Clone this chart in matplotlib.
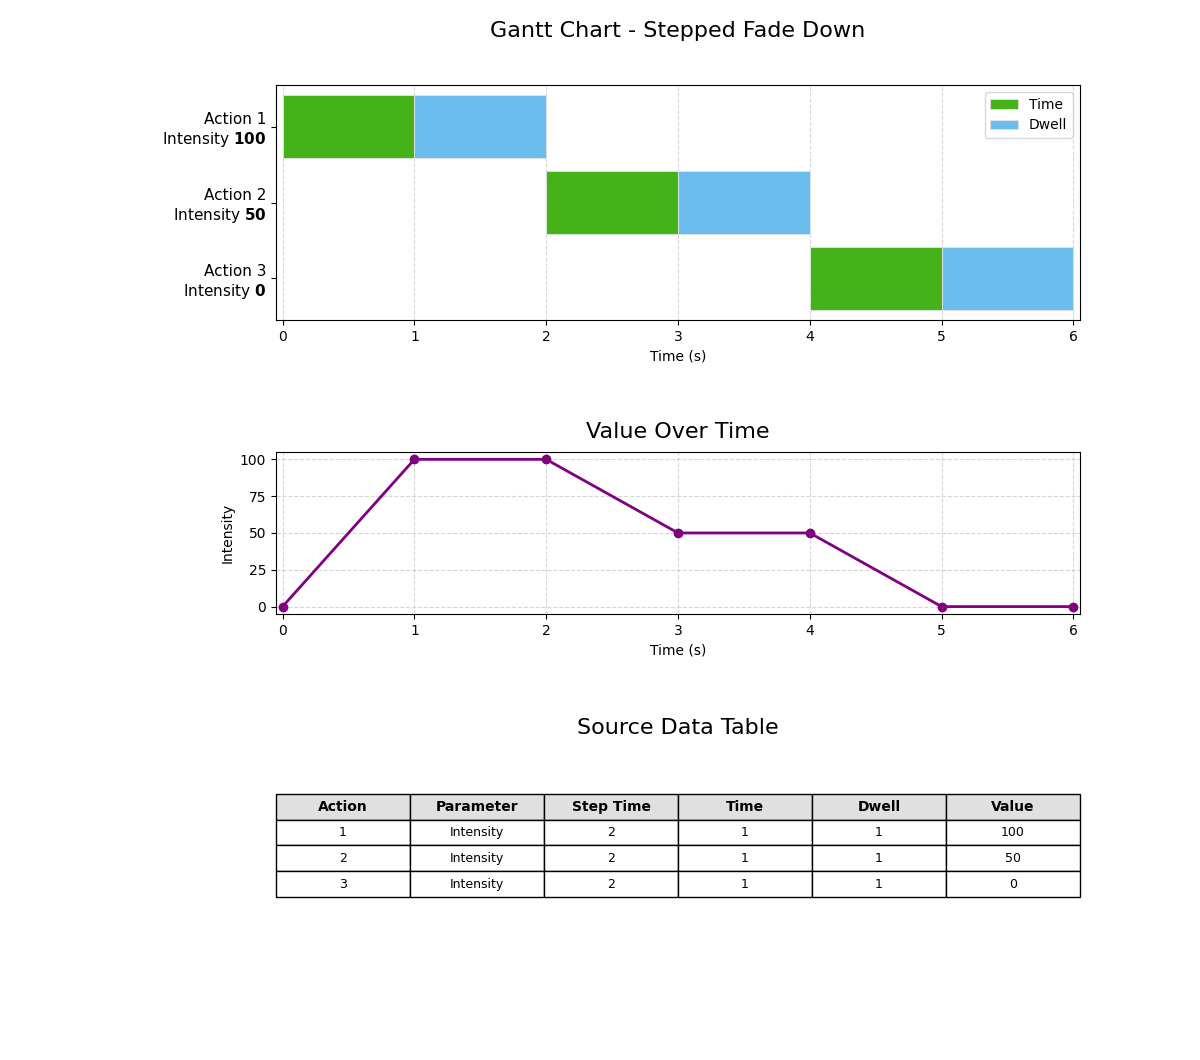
import numpy as np
import matplotlib
matplotlib.use('Agg')
import matplotlib.pyplot as plt

# source data
actions = [1, 2, 3]
parameters = ['Intensity', 'Intensity', 'Intensity']
step_times = [2, 2, 2]
times = [1, 1, 1]
dwells = [1, 1, 1]
values = [100, 50, 0]

# value over time
curve_t = [0, 1, 2, 3, 4, 5, 6]
curve_v = [0, 100, 100, 50, 50, 0, 0]

green = '#43b319'
blue = '#6abdee'

fig = plt.figure(figsize=(12, 10.6), dpi=100)

# Gantt
ax1 = fig.add_axes([0.23, 0.698, 0.67, 0.2218])
starts = np.concatenate([[0], np.cumsum(step_times)[:-1]])
ypos = np.arange(len(actions))
ax1.barh(ypos, times, left=starts, height=0.83, color=green, label='Time',
         edgecolor='#e4e4e4', linewidth=0.6)
ax1.barh(ypos, dwells, left=starts + np.array(times), height=0.83, color=blue, label='Dwell',
         edgecolor='#e4e4e4', linewidth=0.6)
ax1.set_yticks(ypos)
ax1.set_yticklabels(['Action %d\n%s $\\bf{%d}$' % (a, p, v)
                     for a, p, v in zip(actions, parameters, values)], fontsize=11)
ax1.set_ylim(2.55, -0.55)
ax1.set_xlim(-0.05, 6.05)
ax1.set_xlabel('Time (s)')
ax1.grid(axis='x', linestyle='--', alpha=0.5)
ax1.set_axisbelow(True)
ax1.legend(loc='upper right')
ax1.set_title('Gantt Chart - Stepped Fade Down', fontsize=16, pad=34.5)

# Value over time
ax2 = fig.add_axes([0.23, 0.4208, 0.67, 0.1528])
ax2.plot(curve_t, curve_v, color='purple', linewidth=2, marker='o', markersize=6)
ax2.set_xlim(-0.05, 6.05)
ax2.set_ylim(-5, 105)
ax2.set_yticks([0, 25, 50, 75, 100])
ax2.set_xlabel('Time (s)')
ax2.set_ylabel('Intensity')
ax2.grid(linestyle='--', alpha=0.5)
ax2.set_title('Value Over Time', fontsize=16, pad=10)

# Table
ax3 = fig.add_axes([0.23, 0.1538, 0.67, 0.0972])
ax3.axis('off')
cols = ['Action', 'Parameter', 'Step Time', 'Time', 'Dwell', 'Value']
rows = [[str(a), p, str(s), str(t), str(d), str(v)]
        for a, p, s, t, d, v in zip(actions, parameters, step_times, times, dwells, values)]
tbl = ax3.table(cellText=rows, colLabels=cols, cellLoc='center', bbox=[0, 0, 1, 1])
tbl.auto_set_font_size(False)
for (r, c), cell in tbl.get_celld().items():
    if r == 0:
        cell.set_facecolor('#e0e0e0')
        cell.set_text_props(fontweight='bold', fontsize=10)
    else:
        cell.set_text_props(fontsize=9)
ax3.set_title('Source Data Table', fontsize=16, pad=43)

fig.savefig('out.png', dpi=100)
